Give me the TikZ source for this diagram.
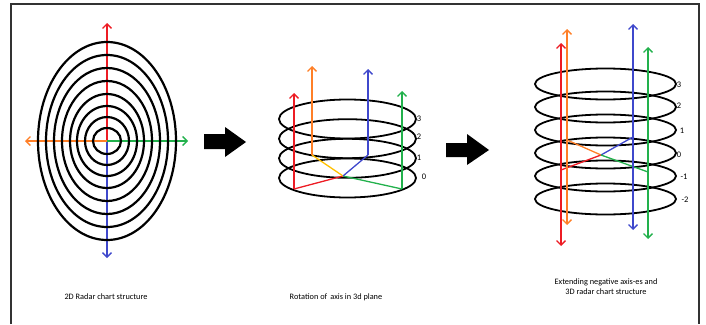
\documentclass[tikz,border=0pt]{standalone}
\usepackage{fontspec}
\setmainfont{Carlito}
\usetikzlibrary{arrows.meta}
\definecolor{axred}{RGB}{237,28,36}
\definecolor{axorange}{RGB}{255,127,39}
\definecolor{axyellow}{RGB}{255,192,0}
\definecolor{axblue}{RGB}{63,72,204}
\definecolor{axgreen}{RGB}{34,177,76}
\definecolor{framegray}{RGB}{50,50,50}
\tikzset{
  ring/.style={draw=black, line width=2.2pt},
  ringthin/.style={draw=black, line width=1.8pt},
  axis/.style={line width=1.3pt, -{Straight Barb[length=4.5pt,width=9pt]}},
  daxis/.style={line width=1.3pt, {Straight Barb[length=4.5pt,width=9pt]}-{Straight Barb[length=4.5pt,width=9pt]}},
  seg/.style={line width=1.3pt},
  caption/.style={font=\fontsize{8.3}{10}\selectfont, align=center, inner sep=0pt},
  lbl/.style={font=\fontsize{8.5}{9}\selectfont, inner sep=0pt},
  bigarrow/.style={fill=black, draw=none}
}
\begin{document}
\begin{tikzpicture}[x=1pt,y=-1pt]
\useasboundingbox (0,0) rectangle (706,324);
% frame
\draw[framegray, line width=1.3pt] (11,324) -- (11,4) -- (699,4) -- (699,324);

% ---------- 2D radar chart ----------
\coordinate (c1) at (107,141);
\coordinate (c1up) at (107,23);
\coordinate (c1dn) at (107,258);
\coordinate (c1lt) at (25,141);
\coordinate (c1rt) at (188,141);
\draw[axis, axred] (c1) -- (c1up);
\draw[axis, axblue] (c1) -- (c1dn);
\draw[axis, axorange] (c1) -- (c1lt);
\draw[axis, axgreen] (c1) -- (c1rt);
\foreach \rx/\ry in {69/99,61/86,53/73,45/60,37/47,30/35,22/24,14/13}
  \draw[ring] (c1) ellipse [x radius=\rx, y radius=\ry];
\node[caption] (cap1) at (106,297) {2D Radar chart structure};

% ---------- block arrows ----------
\fill[bigarrow] (204,134) -- (225,134) -- (225,127) -- (246,142) -- (225,157) -- (225,149) -- (204,149) -- cycle;
\fill[bigarrow] (446,143) -- (467,143) -- (467,134) -- (489,150) -- (467,165) -- (467,157) -- (446,157) -- cycle;

% ---------- middle: rotation ----------
\foreach \cy in {119,138.7,158.3,178}
  \draw[ringthin] (347.5,\cy) ellipse [x radius=68.5, y radius=19.5];
\coordinate (c2) at (343,176);
\coordinate (r2b) at (294,189);
\coordinate (r2t) at (294,93);
\coordinate (g2b) at (402,189);
\coordinate (g2t) at (402,91);
\coordinate (o2b) at (312,155);
\coordinate (o2t) at (312,66);
\coordinate (b2b) at (368,155);
\coordinate (b2t) at (368,69);
\draw[seg, axred] (c2) -- (r2b);
\draw[axis, axred] (r2b) -- (r2t);
\draw[seg, axgreen] (c2) -- (g2b);
\draw[axis, axgreen] (g2b) -- (g2t);
\draw[seg, axyellow] (c2) -- (o2b);
\draw[axis, axorange] (o2b) -- (o2t);
\draw[seg, axblue] (c2) -- (b2b);
\draw[axis, axblue] (b2b) -- (b2t);
\node[lbl] (m3) at (419,119) {3};
\node[lbl] (m2) at (419,137) {2};
\node[lbl] (m1) at (419,158) {1};
\node[lbl] (m0) at (424,177) {0};
\node[caption] (cap2) at (336,297) {Rotation of\, axis in 3d plane};

% ---------- right: 3D radar ----------
\foreach \cy in {84,107,130,153,176,199}
  \draw[ringthin] (605.5,\cy) ellipse [x radius=70.5, y radius=15.5];
\coordinate (c3) at (601,155);
\coordinate (r3) at (561,170);
\coordinate (o3) at (567,140);
\coordinate (b3) at (633,137);
\coordinate (g3) at (648,172);
\draw[seg, axred] (c3) -- (r3);
\draw[seg, axorange] (c3) -- (o3);
\draw[seg, axblue] (c3) -- (b3);
\draw[seg, axgreen] (c3) -- (g3);
\draw[daxis, axred] (561,43) -- (561,246);
\draw[daxis, axorange] (567,29) -- (567,225);
\draw[daxis, axblue] (633,24) -- (633,230);
\draw[daxis, axgreen] (648,47) -- (648,239);
\node[lbl] (n3) at (679,85) {3};
\node[lbl] (n2) at (679,106) {2};
\node[lbl] (n1) at (682,131) {1};
\node[lbl] (n0) at (679,155) {0};
\node[lbl] (nm1) at (684,177) {-1};
\node[lbl] (nm2) at (685,200) {-2};
\node[caption] (cap3) at (606,287) {Extending negative axis-es and\\3D radar chart structure};
\end{tikzpicture}
\end{document}
